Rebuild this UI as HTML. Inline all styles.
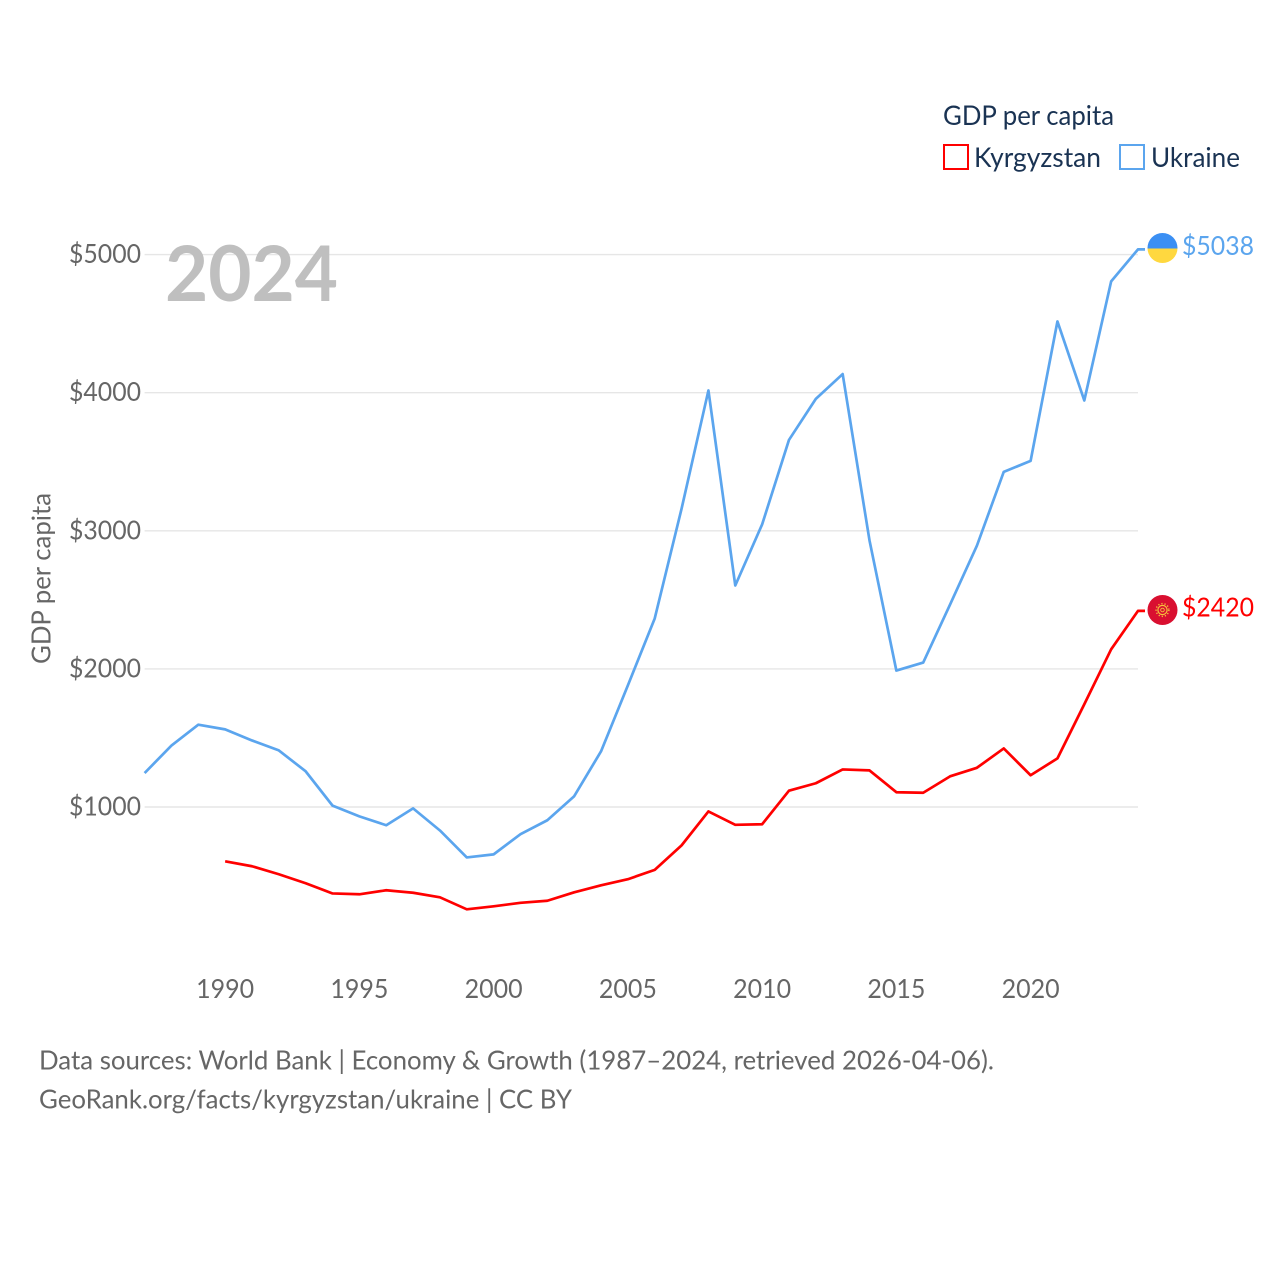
<!DOCTYPE html>
<html lang="en">
<head>
<meta charset="utf-8">
<title>GDP per capita: Kyrgyzstan and Ukraine</title>
<style>
html,body{margin:0;padding:0;background:#fff;}
svg{display:block;}
text{font-family:"Lato","Carlito","Liberation Sans",sans-serif;}
</style>
</head>
<body>
<svg id="chart" xmlns="http://www.w3.org/2000/svg" width="1280" height="1280" viewBox="0 0 1280 1280">
  <rect x="0" y="0" width="1280" height="1280" fill="#ffffff"/>
  <g id="grid"></g>
  <g id="y-ticks"></g>
  <g id="x-ticks"></g>
  <text x="165" y="301" font-size="77" font-weight="700" fill="#bfbfbf" textLength="173" lengthAdjust="spacingAndGlyphs">2024</text>
  <text transform="translate(50.5,664) rotate(-90)" font-size="26" fill="#666666" textLength="171" lengthAdjust="spacingAndGlyphs">GDP per capita</text>
  <g id="series"></g>

  <g>
    <clipPath id="ua-clip"><circle cx="1162.5" cy="248" r="15"/></clipPath>
    <g clip-path="url(#ua-clip)" id="ua-flag">
      <rect x="1147" y="233" width="31" height="15.5" fill="#3b8ff3"/>
      <rect x="1147" y="248.5" width="31" height="15" fill="#ffd83f"/>
    </g>
  </g>
  <g>
    <circle cx="1162.5" cy="610" r="15" fill="#d90f30"/>
    <circle cx="1162.5" cy="610" r="4.6" fill="none" stroke="#f7c23c" stroke-width="1.2"/>
    <circle cx="1162.5" cy="610" r="6.4" fill="none" stroke="#f7c23c" stroke-width="1.4" stroke-dasharray="1.2 2"/>
    <circle cx="1162.5" cy="610" r="1.8" fill="none" stroke="#f7c23c" stroke-width="0.9"/>
  </g>

  <text x="943" y="125" font-size="27" fill="#1a3353" textLength="171" lengthAdjust="spacingAndGlyphs">GDP per capita</text>
  <g>
    <rect x="944" y="145" width="24" height="24" fill="none" stroke="#ff0000" stroke-width="2"/>
    <text x="974" y="167" font-size="27" fill="#1a3353" textLength="127" lengthAdjust="spacingAndGlyphs">Kyrgyzstan</text>
  </g>
  <g>
    <rect x="1120" y="145" width="24" height="24" fill="none" stroke="#5ba5ee" stroke-width="2"/>
    <text x="1151" y="167" font-size="27" fill="#1a3353" textLength="89" lengthAdjust="spacingAndGlyphs">Ukraine</text>
  </g>

  <text x="39" y="1069.5" font-size="26" fill="#666666" textLength="955" lengthAdjust="spacingAndGlyphs">Data sources: World Bank | Economy &amp; Growth (1987–2024, retrieved 2026-04-06).</text>
  <text x="39" y="1108.5" font-size="26" fill="#666666" textLength="533" lengthAdjust="spacingAndGlyphs">GeoRank.org/facts/kyrgyzstan/ukraine | CC BY</text>
</svg>
<script>
const years = [1987,1988,1989,1990,1991,1992,1993,1994,1995,1996,1997,1998,1999,2000,2001,2002,2003,2004,2005,2006,2007,2008,2009,2010,2011,2012,2013,2014,2015,2016,2017,2018,2019,2020,2021,2022,2023,2024];
const ukraineValues = [1246,1445,1596,1562,1482,1410,1258,1010,932,868,990,830,635,657,803,904,1078,1403,1881,2365,3160,4016,2604,3046,3658,3955,4135,2930,1988,2046,2466,2892,3427,3506,4516,3944,4806,5038];
const kyrgyzstanValues = [null,null,null,607,571,513,448,374,368,397,379,346,259,281,306,321,382,433,477,545,722,968,871,875,1118,1172,1272,1265,1107,1103,1222,1284,1424,1230,1352,1744,2142,2420];
const yTickValues = [1000,2000,3000,4000,5000];
const xTickYears = [1990,1995,2000,2005,2010,2015,2020];

const SVG_NS = 'http://www.w3.org/2000/svg';
const xScale = function (year) { return 144.6 + (year - 1987) * (1138 - 144.6) / (2024 - 1987); };
const yScale = function (value) { return 945.1 - value * 0.1381; };

const gridGroup = document.getElementById('grid');
const yTickGroup = document.getElementById('y-ticks');
const xTickGroup = document.getElementById('x-ticks');
const seriesGroup = document.getElementById('series');

yTickValues.forEach(function (value) {
  const line = document.createElementNS(SVG_NS, 'line');
  
  
  line.setAttribute('x1', xScale(1987));
  line.setAttribute('x2', xScale(2024));
  line.setAttribute('y1', yScale(value));
  line.setAttribute('y2', yScale(value));
  line.setAttribute('stroke', '#e6e6e6');
  line.setAttribute('stroke-width', '1.4');
  gridGroup.appendChild(line);

  const label = document.createElementNS(SVG_NS, 'text');
  
  
  label.setAttribute('x', 141);
  label.setAttribute('y', yScale(value) + 8.5);
  label.setAttribute('text-anchor', 'end');
  label.setAttribute('font-size', '26');
  label.setAttribute('fill', '#666666');
  label.setAttribute('textLength', '72');
  label.setAttribute('lengthAdjust', 'spacingAndGlyphs');
  label.textContent = '$' + value;
  yTickGroup.appendChild(label);
});

xTickYears.forEach(function (year) {
  const label = document.createElementNS(SVG_NS, 'text');
  
  
  label.setAttribute('x', xScale(year));
  label.setAttribute('y', 998);
  label.setAttribute('text-anchor', 'middle');
  label.setAttribute('font-size', '26');
  label.setAttribute('fill', '#666666');
  label.setAttribute('textLength', '58');
  label.setAttribute('lengthAdjust', 'spacingAndGlyphs');
  label.textContent = year;
  xTickGroup.appendChild(label);
});

function pathFor(values) {
  let d = '';
  values.forEach(function (value, i) {
    if (value === null) { return; }
    d += (d === '' ? 'M' : 'L') + xScale(years[i]).toFixed(2) + ' ' + yScale(value).toFixed(2);
  });
  const last = values[values.length - 1];
  d += 'L' + (xScale(years[years.length - 1]) + 7).toFixed(2) + ' ' + yScale(last).toFixed(2);
  return d;
}

const ukraineLine = document.createElementNS(SVG_NS, 'path');


ukraineLine.setAttribute('d', pathFor(ukraineValues));
ukraineLine.setAttribute('fill', 'none');
ukraineLine.setAttribute('stroke', '#5ba5ee');
ukraineLine.setAttribute('stroke-width', '2.7');
ukraineLine.setAttribute('stroke-linejoin', 'round');
seriesGroup.appendChild(ukraineLine);

const kyrgyzstanLine = document.createElementNS(SVG_NS, 'path');


kyrgyzstanLine.setAttribute('d', pathFor(kyrgyzstanValues));
kyrgyzstanLine.setAttribute('fill', 'none');
kyrgyzstanLine.setAttribute('stroke', '#ff0000');
kyrgyzstanLine.setAttribute('stroke-width', '2.7');
kyrgyzstanLine.setAttribute('stroke-linejoin', 'round');
seriesGroup.appendChild(kyrgyzstanLine);

const ukraineEnd = ukraineValues[ukraineValues.length - 1];
const ukraineLabel = document.createElementNS(SVG_NS, 'text');


ukraineLabel.setAttribute('x', 1182);
ukraineLabel.setAttribute('y', yScale(ukraineEnd) + 5.5);
ukraineLabel.setAttribute('font-size', '26');
ukraineLabel.setAttribute('fill', '#5ba5ee');
ukraineLabel.setAttribute('textLength', '72');
ukraineLabel.setAttribute('lengthAdjust', 'spacingAndGlyphs');
ukraineLabel.textContent = '$' + ukraineEnd;
seriesGroup.appendChild(ukraineLabel);

const kyrgyzstanEnd = kyrgyzstanValues[kyrgyzstanValues.length - 1];
const kyrgyzstanLabel = document.createElementNS(SVG_NS, 'text');


kyrgyzstanLabel.setAttribute('x', 1182);
kyrgyzstanLabel.setAttribute('y', yScale(kyrgyzstanEnd) + 5.5);
kyrgyzstanLabel.setAttribute('font-size', '26');
kyrgyzstanLabel.setAttribute('fill', '#ff0000');
kyrgyzstanLabel.setAttribute('textLength', '72');
kyrgyzstanLabel.setAttribute('lengthAdjust', 'spacingAndGlyphs');
kyrgyzstanLabel.textContent = '$' + kyrgyzstanEnd;
seriesGroup.appendChild(kyrgyzstanLabel);
</script>
</body>
</html>
